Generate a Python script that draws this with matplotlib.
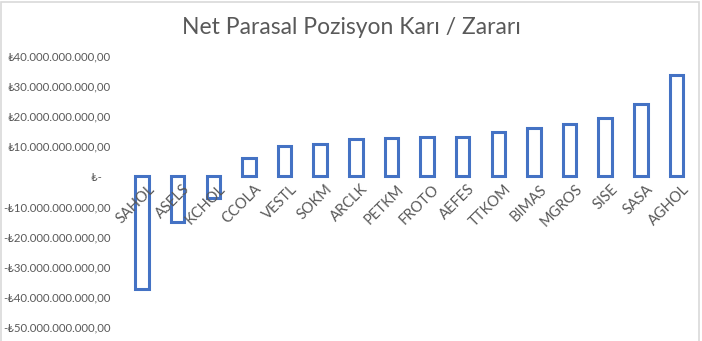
import matplotlib.pyplot as plt
from matplotlib.ticker import FuncFormatter

plt.rcParams['font.family'] = ['Lato', 'DejaVu Sans']

hisseler = ['SAHOL', 'ASELS', 'KCHOL', 'CCOLA', 'VESTL', 'SOKM', 'ARCLK', 'PETKM',
            'FROTO', 'AEFES', 'TTKOM', 'BIMAS', 'MGROS', 'SISE', 'SASA', 'AGHOL']
# milyar TL
degerler = [-37.5, -15.2, -7.3, 6.0, 10.0, 10.6, 12.4, 12.6,
            13.0, 13.0, 14.9, 16.0, 17.3, 19.5, 24.0, 33.6]
y_ticks = [40, 30, 20, 10, 0, -10, -20, -30, -40, -50]

GRAY = '#595959'
BLUE = '#4472C4'


def tl_format(v, pos):
    if v == 0:
        return '₺-   '
    s = '{:,.2f}'.format(abs(v) * 1e9)
    s = s.replace(',', 'X').replace('.', ',').replace('X', '.')
    return ('-' if v < 0 else '') + '₺' + s


fig = plt.figure(figsize=(7.02, 3.41), dpi=100)
ax = fig.add_axes([0.177, 0.041, 0.812, 0.795])

x = list(range(len(hisseler)))
ax.bar(x, degerler, width=0.38, facecolor='white', edgecolor=BLUE, linewidth=2.2)

ax.set_xlim(-0.5, len(hisseler) - 0.5)
ax.set_ylim(-50, 40)
ax.set_yticks(y_ticks)
ax.yaxis.set_major_formatter(FuncFormatter(tl_format))
ax.tick_params(axis='y', length=0, pad=10, labelsize=8.2, labelcolor=GRAY)
ax.set_xticks([])

for i, name in enumerate(hisseler):
    ax.annotate(name, (i + 0.15, 0), xytext=(0, -4), textcoords='offset points',
                ha='right', va='top', rotation=45, rotation_mode='anchor',
                fontsize=10.5, color=GRAY)

for s in ax.spines.values():
    s.set_visible(False)

fig.suptitle('Net Parasal Pozisyon Karı / Zararı', y=0.95, fontsize=16.5, color=GRAY)

# chart border
fig.patches.append(plt.Rectangle((0.002, -0.01), 0.994, 1.005, transform=fig.transFigure,
                                 fill=False, edgecolor='#D9D9D9', linewidth=1.2))

fig.savefig('out.png', dpi=100)
